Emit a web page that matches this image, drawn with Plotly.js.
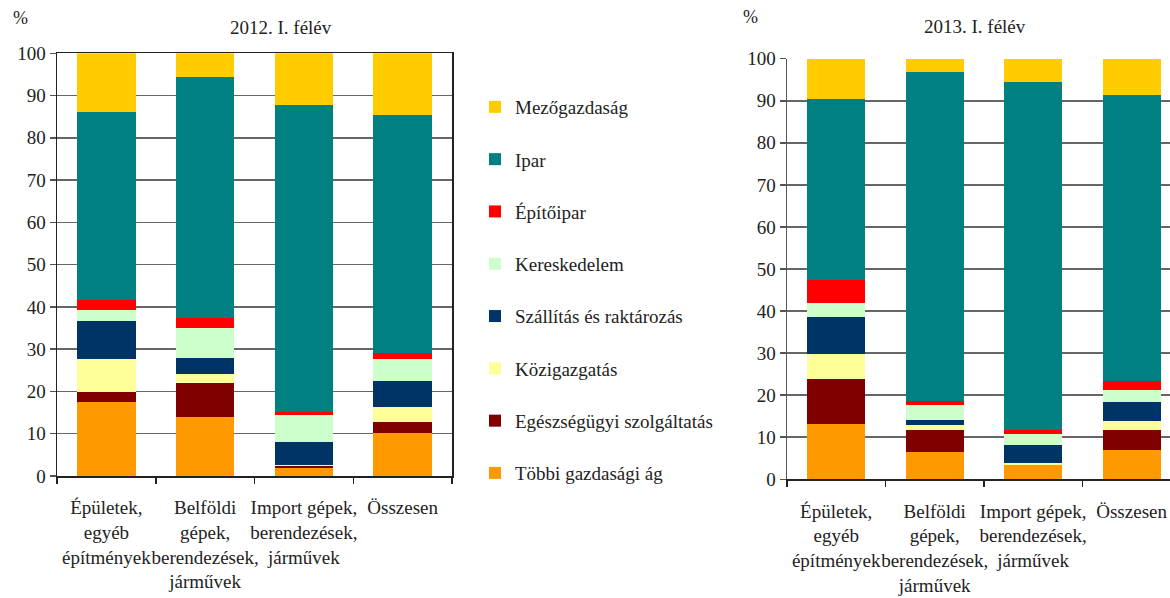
<!DOCTYPE html>
<html>
<head>
<meta charset="utf-8">
<script src="https://cdn.plot.ly/plotly-3.0.1.min.js"></script>
<style>
html,body{margin:0;padding:0;background:#fff;overflow:hidden;}
#chart{width:1170px;height:598px;}
</style>
</head>
<body>
<div id="chart"></div>
<script>
const categories2012 = ["Épületek,<br>egyéb<br>építmények", "Belföldi<br>gépek,<br>berendezések,<br>járművek", "Import gépek,<br>berendezések,<br>járművek", "Összesen"];
const categories2013 = categories2012;

const seriesNames = ["Többi gazdasági ág", "Egészségügyi szolgáltatás", "Közigazgatás", "Szállítás és raktározás", "Kereskedelem", "Építőipar", "Ipar", "Mezőgazdaság"];
const seriesColors = ["#FF9900", "#800000", "#FFFF99", "#003366", "#CCFFCC", "#FF0000", "#008080", "#FFCC00"];

// 2012. I. félév (percent)
const tobbi2012       = [17.5, 14.0, 1.9, 10.2];
const egeszseg2012    = [2.4, 8.0, 0.5, 2.6];
const kozig2012       = [7.8, 2.1, 0.2, 3.5];
const szallitas2012   = [9.0, 3.8, 5.4, 6.2];
const kereskedelem2012= [2.5, 7.1, 6.4, 5.2];
const epitoipar2012   = [2.5, 2.4, 0.7, 1.4];
const ipar2012        = [44.4, 57.0, 72.7, 56.3];
const mezogazd2012    = [13.9, 5.6, 12.2, 14.6];

// 2013. I. félév (percent)
const tobbi2013       = [13.1, 6.5, 3.4, 7.0];
const egeszseg2013    = [10.7, 5.2, 0.0, 4.7];
const kozig2013       = [6.0, 1.2, 0.5, 2.2];
const szallitas2013   = [8.8, 1.2, 4.3, 4.5];
const kereskedelem2013= [3.3, 3.6, 2.6, 2.9];
const epitoipar2013   = [5.5, 0.9, 0.9, 2.1];
const ipar2013        = [43.1, 78.3, 82.8, 68.0];
const mezogazd2013    = [9.5, 3.1, 5.5, 8.6];

const data2012 = [tobbi2012, egeszseg2012, kozig2012, szallitas2012, kereskedelem2012, epitoipar2012, ipar2012, mezogazd2012];
const data2013 = [tobbi2013, egeszseg2013, kozig2013, szallitas2013, kereskedelem2013, epitoipar2013, ipar2013, mezogazd2013];

const FONT = "Liberation Serif";
const FS = 19;
const traces = [];
seriesNames.forEach((name, i) => {
  traces.push({type:"bar", name:name, x:categories2012, y:data2012[i], xaxis:"x", yaxis:"y",
    marker:{color:seriesColors[i], line:{width:0}}, legendgroup:"g"+i, legendrank:100-i, showlegend:true});
});
seriesNames.forEach((name, i) => {
  traces.push({type:"bar", name:name, x:categories2013, y:data2013[i], xaxis:"x2", yaxis:"y2",
    marker:{color:seriesColors[i], line:{width:0}}, legendgroup:"g"+i, showlegend:false});
});

const W = 1170, H = 598;
const axCommonX = {type:"category", tickson:"boundaries", ticks:"outside", ticklen:6, tickwidth:1.5,
  tickcolor:"#222", showgrid:false, showline:true, linecolor:"#222", linewidth:1.5, tickangle:0,
  ticklabelstandoff:14,
  tickfont:{family:FONT, size:FS, color:"#222"}, fixedrange:true, zeroline:false};
const axCommonY = {range:[0,100], dtick:10, ticks:"outside", ticklen:6, tickwidth:1.5, tickcolor:"#555",
  showgrid:true, gridcolor:"#666", gridwidth:1.5, showline:true, linewidth:1.5,
  tickfont:{family:FONT, size:FS, color:"#222"}, zeroline:false, fixedrange:true};

const layout = {
  width:W, height:H, margin:{l:0,r:0,t:0,b:0}, paper_bgcolor:"#fff", plot_bgcolor:"#fff",
  barmode:"stack", bargap:0.41,
  font:{family:FONT, size:FS, color:"#222"},
  xaxis:Object.assign({}, axCommonX, {domain:[57/W, 452/W], anchor:"y", mirror:true, range:[-0.5,3.5]}),
  yaxis:Object.assign({}, axCommonY, {domain:[(H-476)/H, (H-53.3)/H], anchor:"x", linecolor:"#222", mirror:true}),
  xaxis2:Object.assign({}, axCommonX, {domain:[787/W, 1], anchor:"y2", range:[-0.5,3.39]}),
  yaxis2:Object.assign({}, axCommonY, {domain:[(H-479.3)/H, (H-58.7)/H], anchor:"x2", linecolor:"#555566"}),
  legend:{x:475/W, xanchor:"left", y:1-(88/H), yanchor:"top", traceorder:"grouped",
    tracegroupgap:24.6, font:{family:FONT, size:FS, color:"#222"}, bgcolor:"rgba(0,0,0,0)"},
  annotations:[
    {text:"%", x:20/W, y:1-18/H, xref:"paper", yref:"paper", xanchor:"center", yanchor:"middle", showarrow:false, font:{family:FONT,size:18,color:"#222"}},
    {text:"2012. I. félév", x:281/W, y:1-28/H, xref:"paper", yref:"paper", xanchor:"center", yanchor:"middle", showarrow:false, font:{family:FONT,size:FS,color:"#222"}},
    {text:"%", x:750/W, y:1-17/H, xref:"paper", yref:"paper", xanchor:"center", yanchor:"middle", showarrow:false, font:{family:FONT,size:18,color:"#222"}},
    {text:"2013. I. félév", x:975/W, y:1-27/H, xref:"paper", yref:"paper", xanchor:"center", yanchor:"middle", showarrow:false, font:{family:FONT,size:FS,color:"#222"}}
  ]
};

Plotly.newPlot("chart", traces, layout, {staticPlot:true, displayModeBar:false});
</script>
</body>
</html>
